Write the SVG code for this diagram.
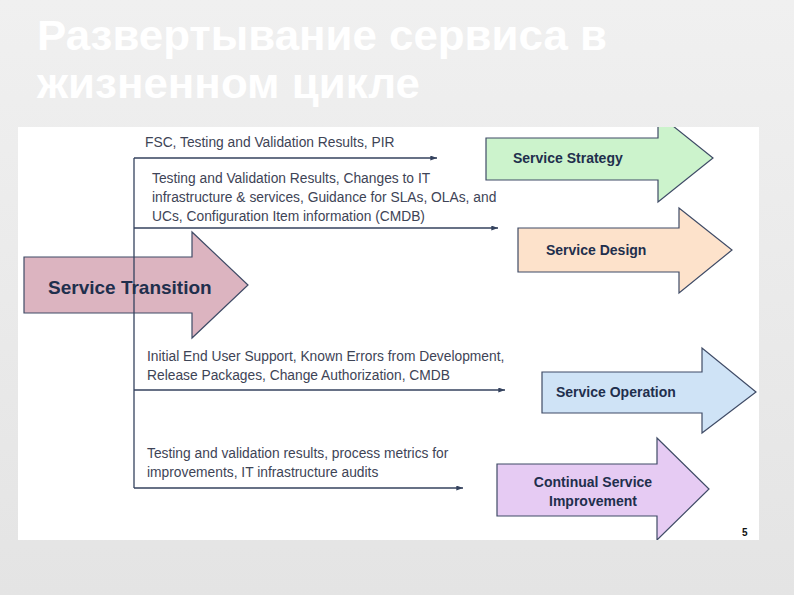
<svg xmlns="http://www.w3.org/2000/svg" width="794" height="595" viewBox="0 0 794 595">
  <style>
    .title { font-family: "Liberation Sans Narrow", "Liberation Sans", Arial, sans-serif; font-weight: bold; font-size: 42px; fill: #ffffff; }
    .lbl { font-family: "Liberation Sans", Arial, sans-serif; font-size: 13.8px; fill: #3e4456; }
    .node { stroke: #3f4b66; stroke-width: 1.2; }
    .ntxt { font-family: "Liberation Sans", Arial, sans-serif; font-weight: bold; font-size: 14px; fill: #1f2f4d; }
    .conn { stroke: #34425e; stroke-width: 1.3; fill: none; }
    .pg { font-family: "Liberation Sans", Arial, sans-serif; font-weight: bold; font-size: 10px; fill: #111111; }
  </style>
  <defs>
    <linearGradient id="bg" x1="0" y1="0" x2="0" y2="1">
      <stop offset="0" stop-color="#f0f0f0"/>
      <stop offset="1" stop-color="#e4e4e4"/>
    </linearGradient>
    <marker id="ah" viewBox="0 0 8 6" refX="8" refY="3" markerWidth="7" markerHeight="5" markerUnits="userSpaceOnUse" orient="auto">
      <path d="M0,0 L8,3 L0,6 Z" fill="#34425e"/>
    </marker>
    <clipPath id="pic">
      <rect x="18" y="127" width="741" height="413"/>
    </clipPath>
  </defs>

  <rect x="0" y="0" width="794" height="595" fill="url(#bg)"/>

  <text class="title" x="37" y="50" textLength="570" lengthAdjust="spacingAndGlyphs">Развертывание сервиса в</text>
  <text class="title" x="37" y="98" textLength="383" lengthAdjust="spacingAndGlyphs">жизненном цикле</text>

  <rect x="18" y="127" width="741" height="413" fill="#ffffff"/>

  <g clip-path="url(#pic)">
    <g id="service-strategy">
      <polygon class="node" fill="#ccf3cc" points="486,138 658,138 658,114 713,158 658,202 658,180 486,180"/>
      <text class="ntxt" x="513" y="163">Service Strategy</text>
    </g>
    <g id="service-design">
      <polygon class="node" fill="#fde2cb" points="518,228 679,228 679,208 732,250 679,293 679,272 518,272"/>
      <text class="ntxt" x="546" y="255">Service Design</text>
    </g>
    <g id="service-operation">
      <polygon class="node" fill="#cfe3f6" points="542,372 702,372 702,348 756,392 702,433 702,413 542,413"/>
      <text class="ntxt" x="556" y="397">Service Operation</text>
    </g>
    <g id="continual-service-improvement">
      <polygon class="node" fill="#e6cbf3" points="497,464 657,464 657,438 709,489 657,540 657,516 497,516"/>
      <text class="ntxt" x="593" y="487" text-anchor="middle">Continual Service</text>
      <text class="ntxt" x="593" y="506" text-anchor="middle">Improvement</text>
    </g>
    <g id="service-transition">
      <polygon class="node" fill="#dcb4c0" points="24,257 192,257 192,232 248,285 192,338 192,313 24,313"/>
    </g>

    <g id="connectors">
      <line class="conn" x1="134" y1="158" x2="134" y2="488"/>
      <line class="conn" x1="134" y1="158" x2="437" y2="158" marker-end="url(#ah)"/>
      <line class="conn" x1="134" y1="228" x2="498" y2="228" marker-end="url(#ah)"/>
      <line class="conn" x1="134" y1="390" x2="505" y2="390" marker-end="url(#ah)"/>
      <line class="conn" x1="134" y1="488" x2="463" y2="488" marker-end="url(#ah)"/>
    </g>

    <g id="service-transition-label">
      <text class="ntxt" x="48" y="294" style="font-size:19px">Service Transition</text>
    </g>

    <g id="labels">
      <text class="lbl" x="145" y="147">FSC, Testing and Validation Results, PIR</text>
      <text class="lbl" x="152" y="183">Testing and Validation Results, Changes to IT</text>
      <text class="lbl" x="152" y="202">infrastructure &amp; services, Guidance for SLAs, OLAs, and</text>
      <text class="lbl" x="152" y="221">UCs, Configuration Item information (CMDB)</text>
      <text class="lbl" x="147" y="361">Initial End User Support, Known Errors from Development,</text>
      <text class="lbl" x="147" y="380">Release Packages, Change Authorization, CMDB</text>
      <text class="lbl" x="147" y="458">Testing and validation results, process metrics for</text>
      <text class="lbl" x="147" y="477">improvements, IT infrastructure audits</text>
    </g>

    <text class="pg" x="742" y="536">5</text>
  </g>
</svg>
